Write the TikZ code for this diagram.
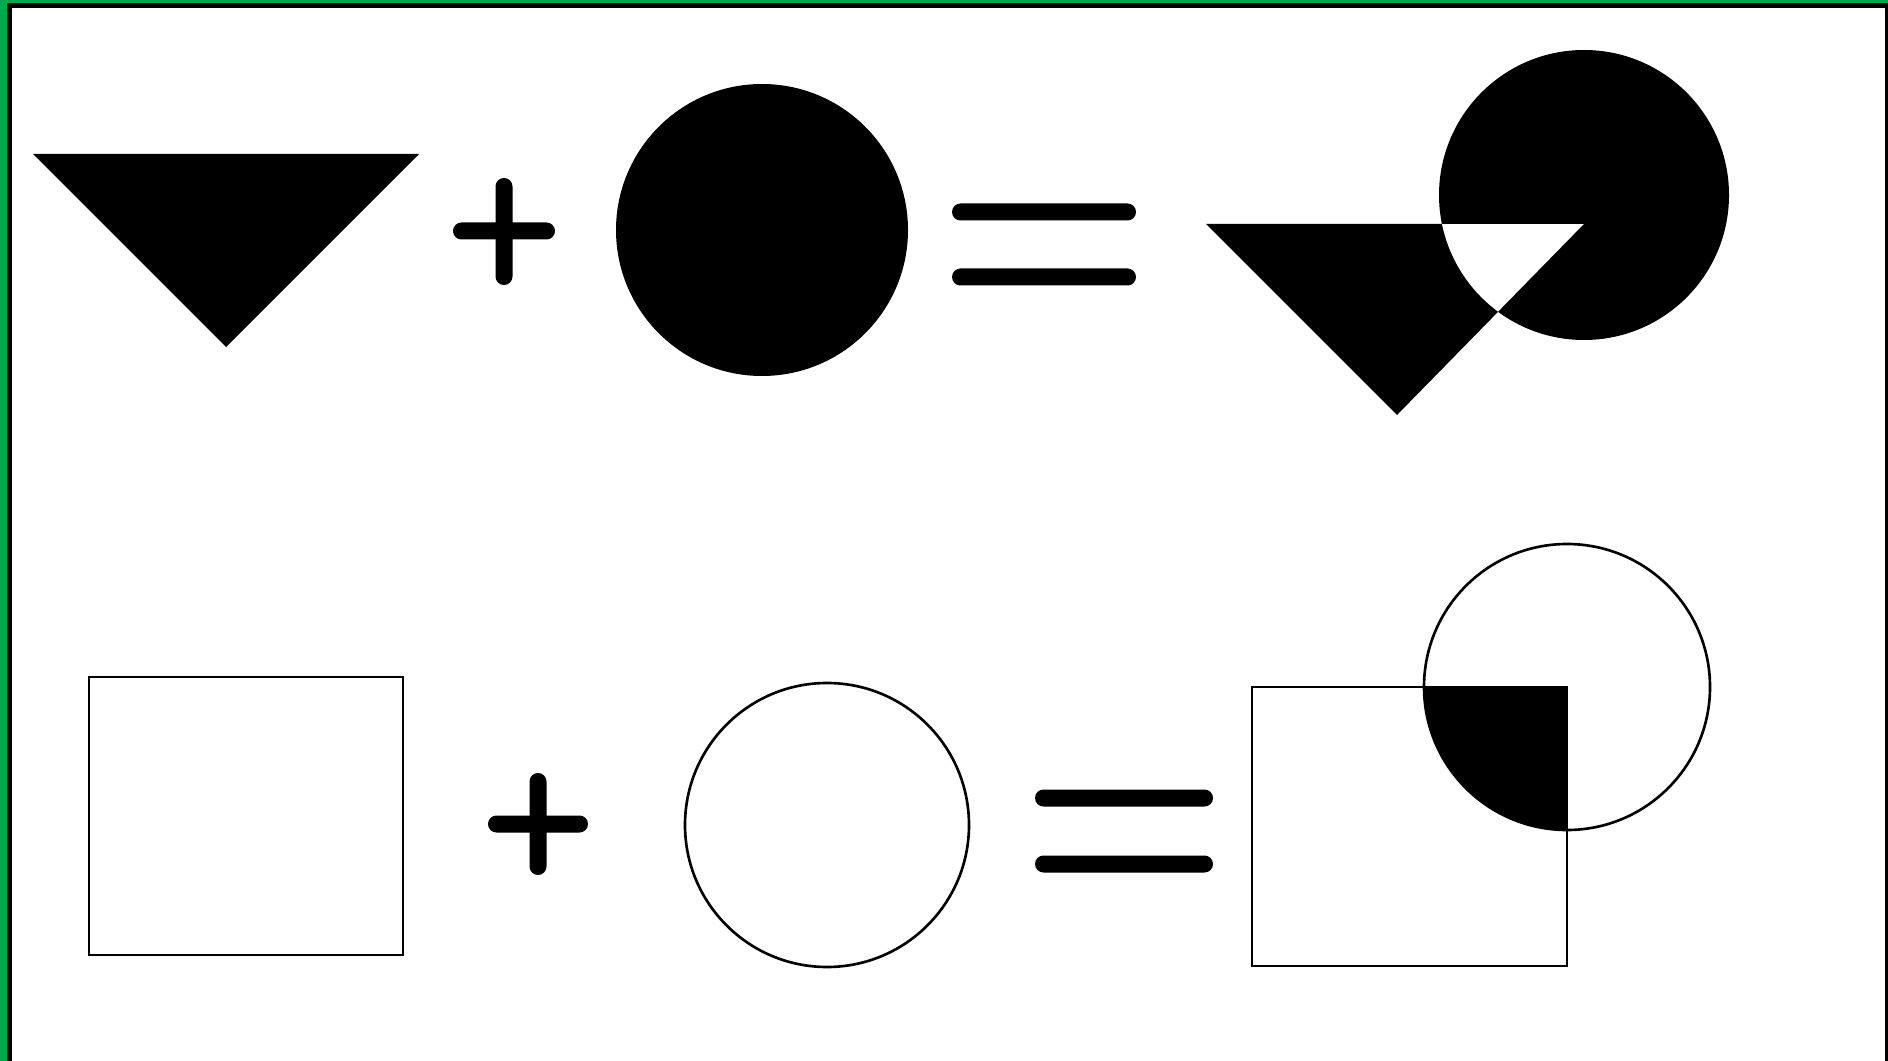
\documentclass[tikz,border=0pt]{standalone}
\usepackage{tikz}

\definecolor{framegreen}{RGB}{0,170,75}

\begin{document}
\begin{tikzpicture}[x=0.01cm, y=-0.01cm]
		\tikzstyle{sign}=[fill=black, rounded corners=2.4pt]
		\tikzstyle{outline}=[draw, line width=0.75pt]

		\useasboundingbox (0,0) rectangle (1888,1061);

		% frame
		\fill[white] (0,0) rectangle (1888,1061);
		\fill[framegreen] (0,0) rectangle (7,1061);
		\fill[framegreen] (0,0) rectangle (1888,3);
		\fill[black] (7,3) rectangle (12,1061);
		\fill[black] (7,3) rectangle (1888,8);
		\fill[black] (1885,3) rectangle (1888,1061);

		% top row
		\coordinate (T1) at (33,154);
		\coordinate (T2) at (419,154);
		\coordinate (T3) at (226,347);
		\fill (T1) -- (T2) -- (T3) -- cycle;

		\coordinate (P1) at (504,231);
		\path[sign] (P1) ++(-51,-8.5) rectangle ++(102,17);
		\path[sign] (P1) ++(-8.5,-53) rectangle ++(17,107);

		\coordinate (D1) at (762,230);
		\fill (D1) circle (146);

		\coordinate (E1) at (1044,212);
		\coordinate (E2) at (1044,277);
		\path[sign] (E1) ++(-92,-8.5) rectangle ++(184,17);
		\path[sign] (E2) ++(-92,-8.5) rectangle ++(184,17);

		\coordinate (D2) at (1584,195);
		\coordinate (U1) at (1206,224);
		\coordinate (U2) at (1584,224);
		\coordinate (U3) at (1397,415);
		\fill[even odd rule] (U1) -- (U2) -- (U3) -- cycle (D2) circle (145);

		% bottom row
		\coordinate (R1) at (89,677);
		\coordinate (R2) at (403,955);
		\draw[outline] (R1) rectangle (R2);

		\coordinate (P2) at (538,824);
		\path[sign] (P2) ++(-50,-8.5) rectangle ++(100,17);
		\path[sign] (P2) ++(-8.5,-51) rectangle ++(17,102);

		\coordinate (C1) at (827,825);
		\draw[outline] (C1) circle (142);

		\coordinate (E3) at (1124,798);
		\coordinate (E4) at (1124,864);
		\path[sign] (E3) ++(-89,-8.5) rectangle ++(178,17);
		\path[sign] (E4) ++(-89,-8.5) rectangle ++(178,17);

		\coordinate (C2) at (1567,687);
		\coordinate (Q1) at (1252,687);
		\coordinate (Q2) at (1567,966);
		\begin{scope}
			\clip (Q1) rectangle (Q2);
			\fill (C2) circle (143);
		\end{scope}
		\draw[outline] (Q1) rectangle (Q2);
		\draw[outline] (C2) circle (143);
	\end{tikzpicture}
\end{document}
